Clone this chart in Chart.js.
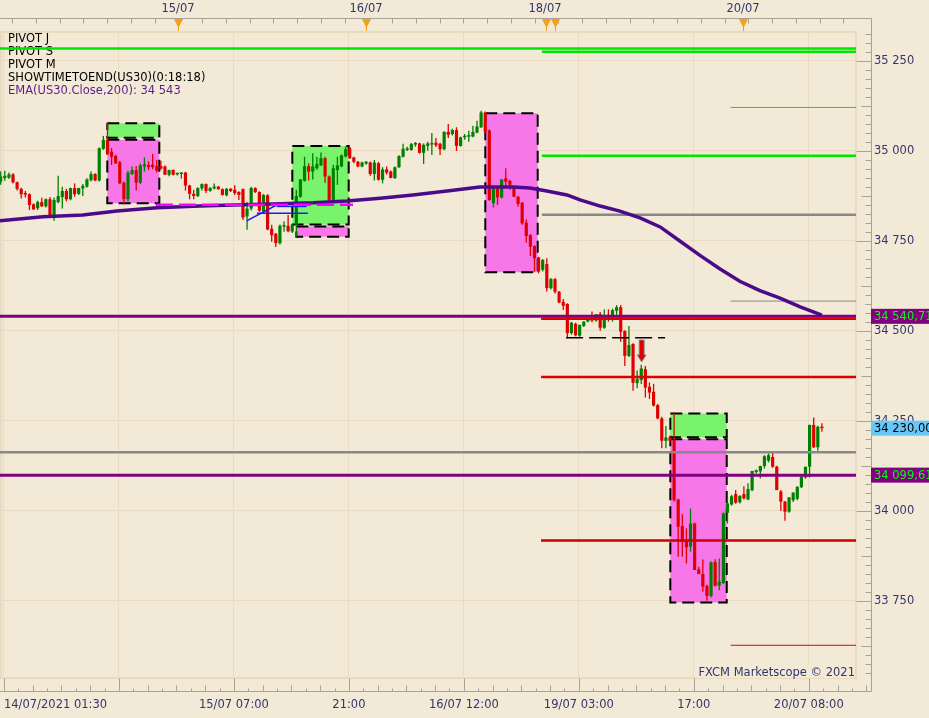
<!DOCTYPE html>
<html>
<head>
<meta charset="utf-8">
<title>US30 - 30 min</title>
<script src="https://cdn.jsdelivr.net/npm/chart.js@4.4.1/dist/chart.umd.min.js"></script>
<style>
  html, body { margin: 0; padding: 0; background: #f2ead7; }
  #chart { display: block; }
</style>
</head>
<body>
<canvas id="chart" width="929" height="718"></canvas>
<script>
// 30 minute US30 candles, index 0 = first bar on screen
const opens = [
  34915, 34925, 34926, 34935, 34913, 34895, 34882, 34880, 34852, 34841,
  34858, 34846, 34866, 34820, 34858, 34872, 34889, 34866, 34897, 34881,
  34896, 34901, 34919, 34936, 34918, 35006, 35031, 34998, 34986, 34969,
  34912, 34866, 34936, 34947, 34912, 34957, 34961, 34962, 34958, 34958,
  34957, 34934, 34947, 34935, 34936, 34940, 34904, 34881, 34875, 34896,
  34908, 34889, 34896, 34901, 34894, 34877, 34895, 34892, 34886, 34894,
  34818, 34840, 34897, 34886, 34832, 34877, 34784, 34770, 34744, 34790,
  34792, 34776, 34795, 34873, 34917, 34958, 34943, 34952, 34960, 34980,
  34929, 34864, 34947, 34957, 34985, 35008, 34982, 34970, 34957, 34965,
  34968, 34936, 34966, 34920, 34949, 34943, 34925, 34955, 34984, 35003,
  35003, 35018, 35021, 34995, 35014, 35018, 35023, 35020, 35005, 35053,
  35047, 35058, 35014, 35038, 35040, 35040, 35051, 35066, 35107, 35057,
  34855, 34896, 34871, 34924, 34917, 34899, 34873, 34856, 34801, 34766,
  34736, 34704, 34670, 34686, 34619, 34644, 34609, 34581, 34575, 34494,
  34520, 34487, 34514, 34526, 34532, 34529, 34547, 34509, 34545, 34544,
  34556, 34566, 34500, 34431, 34464, 34355, 34364, 34394, 34345, 34331,
  34294, 34257, 34195, 34204, 34197, 34032, 33958, 33919, 33901, 33965,
  33838, 33825, 33792, 33764, 33858, 33793, 33800, 33995, 34018, 34047,
  34024, 34047, 34032, 34058, 34108, 34110, 34125, 34140, 34150, 34123,
  34054, 34026, 33998, 34030, 34034, 34066, 34093, 34123, 34239, 34177,
  34233
];
const highs = [
  34943, 34945, 34940, 34938, 34915, 34898, 34889, 34882, 34854, 34862,
  34870, 34868, 34872, 34871, 34931, 34901, 34895, 34898, 34910, 34898,
  34908, 34924, 34943, 34938, 35010, 35042, 35080, 35008, 34990, 34972,
  34915, 34945, 34957, 34958, 34965, 34982, 34971, 34992, 34975, 34973,
  34960, 34948, 34949, 34940, 34941, 34942, 34906, 34892, 34899, 34910,
  34910, 34900, 34910, 34903, 34896, 34897, 34897, 34905, 34888, 34896,
  34858, 34901, 34899, 34888, 34880, 34880, 34795, 34772, 34796, 34804,
  34822, 34797, 34892, 34922, 34984, 34966, 34994, 34984, 34996, 34984,
  34932, 34962, 34984, 34990, 35012, 35012, 34984, 34972, 34970, 34972,
  34971, 34975, 34970, 34955, 34957, 34946, 34957, 34988, 35020, 35012,
  35022, 35025, 35023, 35021, 35026, 35050, 35036, 35023, 35055, 35075,
  35062, 35066, 35040, 35047, 35056, 35070, 35084, 35112, 35110, 35060,
  34897, 34901, 34922, 34952, 34920, 34902, 34875, 34858, 34810, 34769,
  34738, 34706, 34700, 34702, 34647, 34647, 34611, 34589, 34577, 34525,
  34523, 34517, 34527, 34533, 34554, 34547, 34553, 34560, 34560, 34562,
  34572, 34572, 34502, 34514, 34466, 34390, 34406, 34403, 34357, 34353,
  34297, 34262, 34236, 34208, 34274, 34034, 33991, 33952, 34007, 33968,
  33845, 33865, 33795, 33860, 33866, 33868, 33996, 34035, 34045, 34058,
  34044, 34069, 34077, 34112, 34115, 34126, 34155, 34160, 34163, 34126,
  34058, 34028, 34038, 34052, 34069, 34098, 34123, 34240, 34260, 34237,
  34244
];
const lows = [
  34906, 34917, 34922, 34910, 34890, 34868, 34871, 34836, 34836, 34836,
  34845, 34843, 34818, 34806, 34855, 34840, 34860, 34863, 34873, 34878,
  34875, 34898, 34915, 34916, 34915, 35003, 34989, 34961, 34964, 34908,
  34852, 34860, 34933, 34890, 34908, 34943, 34947, 34949, 34940, 34948,
  34933, 34930, 34932, 34932, 34923, 34890, 34866, 34866, 34872, 34890,
  34883, 34887, 34893, 34892, 34876, 34874, 34886, 34878, 34864, 34808,
  34781, 34835, 34883, 34831, 34828, 34780, 34748, 34733, 34740, 34776,
  34774, 34772, 34762, 34870, 34915, 34918, 34921, 34948, 34958, 34912,
  34860, 34860, 34906, 34955, 34982, 34978, 34966, 34955, 34955, 34962,
  34931, 34918, 34918, 34910, 34935, 34924, 34922, 34953, 34982, 35000,
  35001, 35012, 34993, 34964, 35001, 34989, 35011, 34989, 35002, 35036,
  35043, 35000, 35012, 35031, 35026, 35038, 35049, 35064, 35050, 34862,
  34843, 34850, 34868, 34899, 34892, 34872, 34845, 34795, 34745, 34708,
  34665, 34660, 34665, 34610, 34615, 34604, 34577, 34558, 34480, 34490,
  34485, 34484, 34511, 34524, 34524, 34526, 34501, 34506, 34526, 34526,
  34545, 34470, 34403, 34428, 34334, 34341, 34353, 34315, 34311, 34290,
  34255, 34174, 34174, 34193, 34026, 33873, 33873, 33854, 33887, 33836,
  33825, 33776, 33751, 33760, 33790, 33780, 33797, 33965, 34015, 34020,
  34021, 34032, 34030, 34055, 34104, 34090, 34118, 34135, 34120, 34058,
  34000, 33973, 33995, 34025, 34030, 34064, 34090, 34093, 34175, 34167,
  34220
];
const closes = [
  34929, 34931, 34935, 34913, 34895, 34880, 34879, 34850, 34838, 34858,
  34846, 34866, 34820, 34864, 34875, 34889, 34866, 34897, 34880, 34897,
  34903, 34921, 34936, 34918, 35008, 35031, 34994, 34984, 34966, 34910,
  34866, 34940, 34947, 34912, 34960, 34963, 34955, 34955, 34945, 34951,
  34934, 34947, 34934, 34938, 34940, 34904, 34881, 34875, 34897, 34908,
  34889, 34897, 34901, 34894, 34878, 34895, 34889, 34883, 34878, 34815,
  34840, 34897, 34886, 34834, 34878, 34782, 34766, 34744, 34792, 34792,
  34777, 34795, 34875, 34921, 34958, 34943, 34957, 34964, 34980, 34929,
  34864, 34952, 34960, 34988, 35005, 34980, 34970, 34957, 34968, 34970,
  34936, 34968, 34920, 34949, 34940, 34925, 34955, 34986, 35006, 35007,
  35019, 35021, 34995, 35017, 35021, 35021, 35016, 35005, 35053, 35045,
  35058, 35014, 35038, 35042, 35044, 35053, 35068, 35107, 35054, 34864,
  34896, 34871, 34921, 34915, 34906, 34873, 34853, 34799, 34764, 34734,
  34702, 34665, 34697, 34619, 34644, 34609, 34579, 34570, 34494, 34523,
  34488, 34517, 34526, 34532, 34529, 34547, 34509, 34544, 34540, 34558,
  34566, 34498, 34431, 34461, 34356, 34367, 34396, 34343, 34329, 34293,
  34257, 34195, 34204, 34195, 34030, 33956, 33914, 33899, 33965, 33836,
  33825, 33790, 33764, 33858, 33792, 33804, 33993, 34021, 34041, 34023,
  34042, 34035, 34061, 34111, 34113, 34125, 34152, 34155, 34123, 34058,
  34026, 33998, 34038, 34051, 34067, 34095, 34123, 34239, 34177, 34234,
  34230
];

// EMA(200) at a few bars
const emaIdx = [-0.5, 10.3, 20.0, 28.3, 38.1, 48.5, 56.6, 66.3, 76.1, 84.3, 92.4, 100.4, 108.7, 116.7, 124.8,
  128.9, 133.0, 137.9, 141.1, 146.0, 150.8, 155.7, 160.6, 165.4, 170.3, 175.2, 180.0, 184.9, 189.8, 194.7, 200];
const emaVal = [34806, 34817, 34822, 34833, 34842, 34847, 34850, 34853, 34856, 34861, 34869, 34878, 34889, 34900, 34900,
  34897, 34889, 34878, 34864, 34847, 34833, 34814, 34789, 34750, 34710, 34672, 34638, 34612, 34591, 34567, 34544];

// pivot / level lines
const levelPrice = [35285, 35276, 35121, 34987, 34823, 34583, 34540.71, 34534, 34372, 34163, 34099.61, 33918, 33627];
const levelFrom = [-1, 131.8, 177.8, 131.8, 131.8, 177.8, -1, 131.6, 131.6, -1, -1, 131.6, 177.8];
const levelTo = [210, 210, 210, 210, 210, 210, 210, 210, 210, 210, 210, 210, 210];
const levelKind = ['R', 'R', 'r', 'R', 'P', 'p', 'M', 'S', 'S', 'P', 'M', 's', 'S1'];

// supply / demand boxes
const boxFrom = [25.96, 25.96, 71.02, 72.0, 118.02, 163.08, 163.08];
const boxTo = [38.63, 38.63, 84.75, 84.75, 130.78, 176.82, 176.82];
const boxHigh = [35077, 35031, 35014, 34790, 35105, 34271, 34199];
const boxLow = [35037, 34855, 34796, 34762, 34663, 34205, 33746];
const boxSide = ['buy', 'sell', 'buy', 'sell', 'sell', 'buy', 'sell'];

// drawn helper lines
const dashPinkPrice = 34851, dashPinkFrom = 37.8, dashPinkTo = 85.8;
const dashBlackPrice = 34481, dashBlackFrom = 137.7, dashBlackTo = 161.8;
const trendIdx = [59.9, 67.2];
const trendVal = [34806, 34850];
const blueLinePrice = [34827, 34846];
const blueLineFrom = [62.4, 67.2];
const blueLineTo = [74.8, 74.5];

// sell signal arrow
const sigIdx = 156.1, sigFrom = 34475, sigTo = 34414;

// axes
const timeIdx = [0.8, 28.8, 56.8, 84.8, 112.8, 140.8, 168.8, 196.8];
const timeLabels = ['14/07/2021 01:30', '', '15/07 07:00', '21:00', '16/07 12:00', '19/07 03:00', '17:00', '20/07 08:00'];
const dayIdx = [43.18, 88.97, 132.56, 180.78];
const dayLabels = ['15/07', '16/07', '18/07', '20/07'];
const eventIdx = [43.18, 88.97, 132.8, 135.0, 180.78];
const yTicks = [33750, 34000, 34250, 34500, 34750, 35000, 35250];

const tagPrice = [34540.71, 34230.00, 34099.61];
const tagKind = ['pivot', 'last', 'pivot'];
const legendLines = ['PIVOT J', 'PIVOT S', 'PIVOT M', 'SHOWTIMETOEND(US30)(0:18:18)', 'EMA(US30.Close,200): 34 543'];

const X_MIN = -0.17, X_MAX = 208.3;
const Y_MIN = 33533.3, Y_MAX = 35333.3;

const BG = '#f2ead7';
const GRID = '#ebdbc1';
const FRAME = '#a9a096';
const AXIS_TEXT = '#34346e';
const FONT = '"DejaVu Sans", Verdana, sans-serif';
const UP = '#008000', DOWN = '#e00000';

const levelLook = {
  R: ['#00e600', 2.5], r: ['#00e600', 1], P: ['#888888', 2.5], p: ['#888888', 1],
  M: ['#800080', 3], S: ['#e00000', 2.5], s: ['#c80000', 2.5], S1: ['#e00000', 1]
};

function thousands(v) {
  return String(v).replace(/\B(?=(\d{3})+(?!\d))/g, ' ');
}
function fmtPrice(v) {
  const parts = v.toFixed(2).split('.');
  return thousands(parts[0]) + ',' + parts[1];
}

Chart.defaults.font.family = FONT;
Chart.defaults.font.size = 11.5;

const datasets = [];

boxFrom.forEach((from, i) => {
  const to = boxTo[i];
  datasets.push({
    type: 'line',
    data: [
      { x: from, y: boxHigh[i] }, { x: to, y: boxHigh[i] },
      { x: to, y: boxLow[i] }, { x: from, y: boxLow[i] }, { x: from, y: boxHigh[i] }
    ],
    fill: 'shape',
    backgroundColor: boxSide[i] === 'buy' ? '#78f36b' : '#f877e8',
    borderColor: '#000',
    borderWidth: 2,
    borderDash: [12, 6],
    pointRadius: 0,
    clip: 0,
    order: 20
  });
});

const candleColors = opens.map((o, i) => closes[i] >= o ? UP : DOWN);

datasets.push({
  type: 'bar',
  data: opens.map((o, i) => ({ x: i, y: [lows[i], highs[i]] })),
  backgroundColor: candleColors,
  barThickness: 1.3,
  barPercentage: 1,
  grouped: false,
  inflateAmount: 0,
  order: 12
});
datasets.push({
  type: 'bar',
  data: opens.map((o, i) => ({ x: i, y: [o, closes[i]] })),
  backgroundColor: candleColors,
  barThickness: 3.2,
  barPercentage: 1,
  minBarLength: 1.5,
  grouped: false,
  inflateAmount: 0,
  order: 11
});

levelPrice.forEach((p, i) => {
  const look = levelLook[levelKind[i]];
  datasets.push({
    type: 'line',
    data: [{ x: levelFrom[i], y: p }, { x: levelTo[i], y: p }],
    borderColor: look[0],
    borderWidth: look[1],
    pointRadius: 0,
    clip: 0,
    order: 5
  });
});

datasets.push({
  type: 'line',
  data: emaIdx.map((x, i) => ({ x, y: emaVal[i] })),
  borderColor: '#4b0a8a',
  borderWidth: 3.5,
  pointRadius: 0,
  clip: 0,
  order: 4
});

datasets.push({
  type: 'line',
  data: [{ x: dashPinkFrom, y: dashPinkPrice }, { x: dashPinkTo, y: dashPinkPrice }],
  borderColor: '#ff00ff', borderWidth: 2.5, borderDash: [17, 6],
  pointRadius: 0, clip: 0, order: 3
});
datasets.push({
  type: 'line',
  data: [{ x: dashBlackFrom, y: dashBlackPrice }, { x: dashBlackTo, y: dashBlackPrice }],
  borderColor: '#000', borderWidth: 1.5, borderDash: [17, 6],
  pointRadius: 0, clip: 0, order: 3
});
datasets.push({
  type: 'line',
  data: trendIdx.map((x, i) => ({ x, y: trendVal[i] })),
  borderColor: '#1c1cf0', borderWidth: 1.5,
  pointRadius: 0, clip: 0, order: 3
});
blueLinePrice.forEach((p, i) => {
  datasets.push({
    type: 'line',
    data: [{ x: blueLineFrom[i], y: p }, { x: blueLineTo[i], y: p }],
    borderColor: '#1c1cf0', borderWidth: 1.5,
    pointRadius: 0, clip: 0, order: 3
  });
});

const chrome = {
  id: 'chrome',
  beforeDraw(chart) {
    const ctx = chart.ctx;
    ctx.save();
    ctx.fillStyle = BG;
    ctx.fillRect(0, 0, chart.width, chart.height);
    ctx.restore();
  },
  beforeDatasetsDraw(chart) {
    const { ctx, chartArea: a } = chart;
    ctx.save();
    // plot border
    ctx.strokeStyle = '#eadabe';
    ctx.lineWidth = 2;
    ctx.strokeRect(a.left + 1, a.top + 1, a.right - a.left - 1, a.bottom - a.top - 2);

    // watermark
    ctx.font = '11.5px ' + FONT;
    ctx.textBaseline = 'middle';
    ctx.fillStyle = BG;
    ctx.fillRect(a.right - 159, a.bottom - 15, 158, 14);
    ctx.fillStyle = AXIS_TEXT;
    ctx.textAlign = 'right';
    ctx.fillText('FXCM Marketscope \u00a9 2021', a.right - 1, a.bottom - 6);

    // indicator list
    ctx.textAlign = 'left';
    legendLines.forEach((t, i) => {
      ctx.fillStyle = i === legendLines.length - 1 ? '#5a1e8c' : '#000';
      ctx.fillText(t, 8, 39 + i * 12.9);
    });
    ctx.restore();
  },
  afterDraw(chart) {
    const { ctx, chartArea: a } = chart;
    const xs = chart.scales.x, ys = chart.scales.y, xt = chart.scales.xTop;
    const axX = 871.5, top = 18.5, bot = 691.5;
    ctx.save();
    ctx.strokeStyle = FRAME;
    ctx.lineWidth = 1;
    ctx.beginPath();
    ctx.moveTo(0, top); ctx.lineTo(axX, top); ctx.lineTo(axX, bot); ctx.lineTo(0, bot);
    for (let px = 12; px < a.right; px += 23.75) {
      const p = Math.round(px) + 0.5;
      ctx.moveTo(p, top); ctx.lineTo(p, top + 5);
    }
    for (let n = 0; ; n++) {
      const v = timeIdx[0] + 3.5 * n;
      const p = Math.round(xs.getPixelForValue(v)) + 0.5;
      if (p > axX) break;
      const len = n % 8 === 0 ? 13 : (n % 2 ? 3 : 6);
      ctx.moveTo(p, bot); ctx.lineTo(p, bot - len);
    }
    for (let v = 33550; v <= Y_MAX; v += 25) {
      const p = Math.round(ys.getPixelForValue(v)) + 0.5;
      const len = v % 250 === 0 ? 15 : (v % 125 === 0 ? 10 : 6);
      ctx.moveTo(axX, p); ctx.lineTo(axX - len, p);
    }
    ctx.stroke();

    // calendar event markers
    ctx.fillStyle = '#f5a01a';
    eventIdx.forEach(v => {
      const p = Math.round(xt.getPixelForValue(v)) + 0.5;
      ctx.beginPath();
      ctx.moveTo(p - 4.5, 19); ctx.lineTo(p + 4.5, 19); ctx.lineTo(p, 28);
      ctx.closePath();
      ctx.fill();
      ctx.fillRect(p - 0.5, 27, 1, 4);
    });

    // price tags on the axis
    ctx.font = '11.5px ' + FONT;
    ctx.textAlign = 'left';
    ctx.textBaseline = 'middle';
    tagPrice.forEach((v, i) => {
      const p = ys.getPixelForValue(v);
      const last = tagKind[i] === 'last';
      ctx.fillStyle = last ? '#66c8f8' : '#800080';
      ctx.fillRect(871, p - 7.5, 60, 15);
      ctx.fillStyle = last ? '#000' : '#00ff00';
      ctx.fillText(fmtPrice(v), 874, p + 0.5);
    });

    // sell arrow
    const sx = xs.getPixelForValue(sigIdx);
    const s0 = ys.getPixelForValue(sigFrom), s1 = ys.getPixelForValue(sigTo);
    ctx.beginPath();
    ctx.moveTo(sx - 2.5, s0); ctx.lineTo(sx + 2.5, s0); ctx.lineTo(sx + 2.5, s1 - 7);
    ctx.lineTo(sx + 4.5, s1 - 7); ctx.lineTo(sx, s1); ctx.lineTo(sx - 4.5, s1 - 7);
    ctx.lineTo(sx - 2.5, s1 - 7); ctx.closePath();
    ctx.fillStyle = '#e00000';
    ctx.fill();
    ctx.strokeStyle = '#8c8c8c';
    ctx.stroke();
    ctx.restore();
  }
};

new Chart(document.getElementById('chart'), {
  type: 'bar',
  data: { datasets },
  options: {
    responsive: false,
    animation: false,
    devicePixelRatio: 1,
    events: [],
    layout: { padding: 0, autoPadding: false },
    plugins: { legend: { display: false }, tooltip: { enabled: false } },
    scales: {
      x: {
        type: 'linear',
        position: 'bottom',
        min: X_MIN,
        max: X_MAX,
        offset: false,
        border: { display: false },
        grid: {
          offset: false,
          drawTicks: false,
          color: c => (c.tick && c.tick.value > 200) ? 'rgba(0,0,0,0)' : GRID
        },
        ticks: {
          autoSkip: false,
          maxRotation: 0,
          align: 'inner',
          padding: 19,
          color: AXIS_TEXT,
          callback: (v, i) => timeLabels[i] || ''
        },
        afterBuildTicks: s => {
          s.ticks = timeIdx.concat([X_MAX]).map(v => ({ value: v }));
        },
        afterFit: s => { s.height = 39; s.paddingLeft = 0; s.paddingRight = 0; }
      },
      xTop: {
        type: 'linear',
        position: 'top',
        min: X_MIN,
        max: X_MAX,
        offset: false,
        border: { display: false },
        grid: { display: false, drawTicks: false },
        ticks: {
          autoSkip: false,
          maxRotation: 0,
          padding: 15,
          color: AXIS_TEXT,
          callback: (v, i) => dayLabels[i] || ''
        },
        afterBuildTicks: s => {
          s.ticks = dayIdx.map(v => ({ value: v }));
        },
        afterFit: s => { s.height = 31; s.paddingLeft = 0; s.paddingRight = 0; }
      },
      y: {
        type: 'linear',
        position: 'right',
        min: Y_MIN,
        max: Y_MAX,
        beginAtZero: false,
        border: { display: false },
        grid: { drawTicks: false, color: GRID },
        ticks: {
          padding: 18,
          color: AXIS_TEXT,
          callback: v => thousands(v)
        },
        afterBuildTicks: s => {
          s.ticks = yTicks.map(v => ({ value: v }));
        },
        afterFit: s => { s.width = 73; s.paddingTop = 0; s.paddingBottom = 0; }
      }
    }
  },
  plugins: [chrome]
});
</script>
</body>
</html>
